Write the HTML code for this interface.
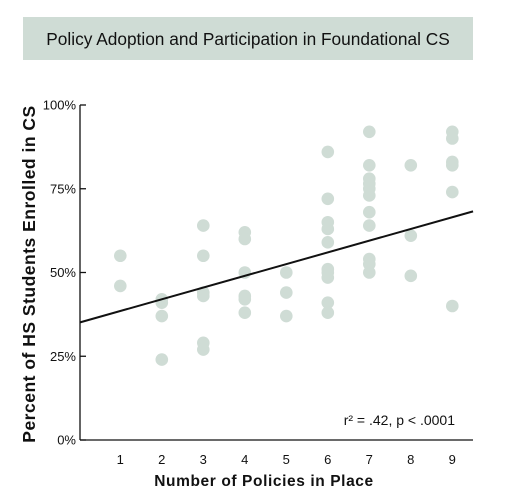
<!DOCTYPE html>
<html><head><meta charset="utf-8"><style>
body{margin:0;background:#fff;font-family:"Liberation Sans",sans-serif;}
svg text{font-family:"Liberation Sans",sans-serif;}
</style></head><body>
<svg width="518" height="498" viewBox="0 0 518 498">
<rect x="23" y="17" width="450" height="43" fill="#cfdcd5"/>
<text x="248" y="45" font-size="17.3" text-anchor="middle" fill="#111">Policy Adoption and Participation in Foundational CS</text>
<g id="plot"></g>
<text x="455" y="425" font-size="14" text-anchor="end" fill="#111">r² = .42,  p &lt; .0001</text>
<text x="264" y="486" font-size="15.5" font-weight="bold" letter-spacing="0.6" text-anchor="middle" fill="#111">Number of Policies in Place</text>
<text transform="translate(35,274) rotate(-90)" font-size="17.5" font-weight="bold" letter-spacing="0.5" text-anchor="middle" fill="#111">Percent of HS Students Enrolled in CS</text>
</svg>
<script>
const xs = [1,1, 2,2,2,2, 3,3,3,3,3,3, 4,4,4,4,4,4, 5,5,5, 6,6,6,6,6,6,6,6,6,6, 7,7,7,7,7,7,7,7,7,7,7, 8,8,8, 9,9,9,9,9,9];
const ys = [55,46, 42,41,37,24, 64,55,44,43,29,27, 62,60,50,43,42,38, 50,44,37, 86,72,65,63,59,51,50,48.5,41,38, 92,82,78,76.5,75,73,68,64,54,52.5,50, 82,61,49, 92,90,83,82,74,40];
const xTicks = [1,2,3,4,5,6,7,8,9];
const yTicks = [0,25,50,75,100];
const yTickLabels = ["0%","25%","50%","75%","100%"];
const fitSlope = 3.5;
const fitIntercept = 35;
const fitRange = [0.03, 9.5];

const NS="http://www.w3.org/2000/svg";
const g=document.getElementById('plot');
const X=v=>78.8+v*41.5;
const Y=v=>440-v*3.35;
function mk(t,a){const e=document.createElementNS(NS,t);for(const k in a)e.setAttribute(k,a[k]);g.appendChild(e);return e;}
let e;
e=mk('line',{x1:80,y1:Y(0),x2:473,y2:Y(0),stroke:'#111','stroke-width':1.3});


e=mk('line',{x1:80,y1:Y(100),x2:80,y2:Y(0),stroke:'#111','stroke-width':1.3});


yTicks.forEach((t,i)=>{
  e=mk('line',{x1:80,y1:Y(t),x2:86,y2:Y(t),stroke:'#111','stroke-width':1.3});
  
  
  e=mk('text',{x:76,y:Y(t)+4.5,'font-size':13,'text-anchor':'end',fill:'#111'});
  e.textContent=yTickLabels[i];
  
  
});
xTicks.forEach(t=>{
  e=mk('text',{x:X(t),y:464,'font-size':13,'text-anchor':'middle',fill:'#111'});
  e.textContent=t;
  
  
});
xs.forEach((x,i)=>{
  e=mk('circle',{cx:X(x),cy:Y(ys[i]),r:6.3,fill:'#cfdcd5'});
  
  
});
e=mk('line',{x1:X(fitRange[0]),y1:Y(fitIntercept+fitSlope*fitRange[0]),x2:X(fitRange[1]),y2:Y(fitIntercept+fitSlope*fitRange[1]),stroke:'#111','stroke-width':2});


</script>
</body></html>
